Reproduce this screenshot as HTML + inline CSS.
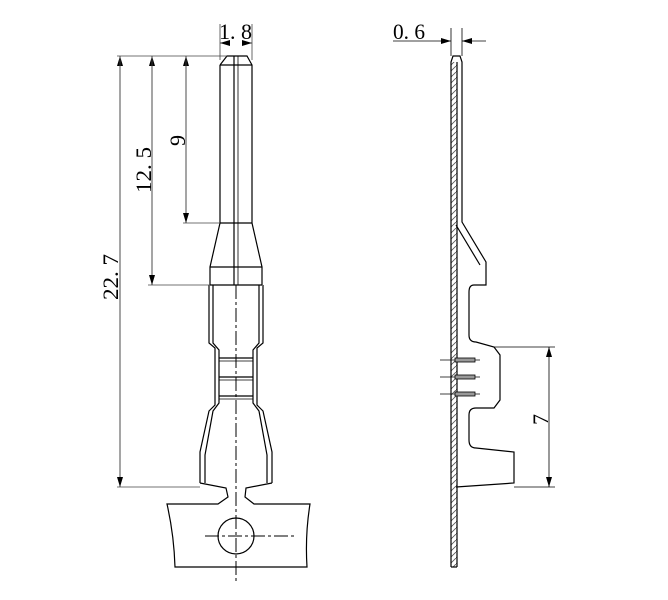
<!DOCTYPE html>
<html><head><style>body{margin:0;background:#fff}svg{display:block}</style></head>
<body>
<svg width="668" height="600" viewBox="0 0 668 600" xmlns="http://www.w3.org/2000/svg" font-family="'Liberation Serif',serif">
<defs>
<marker id="a" markerWidth="10" markerHeight="6" refX="10" refY="3" orient="auto" markerUnits="userSpaceOnUse"><path d="M0,0 L10,3 L0,6z" fill="#000"/></marker>
<pattern id="h" width="6" height="6" patternUnits="userSpaceOnUse"><path d="M0,6 L6,0" stroke="#555" stroke-width="0.8"/></pattern>
</defs>
<g fill="none" stroke="#000" stroke-width="1.2">
<path d="M220,65 L227,56 L247,56 L252,65 L252,223 L262,267 L262,285"/>
<path d="M220,65 L220,223 L210,267 L210,285"/>
<line x1="220" y1="65" x2="252" y2="65"/>
<line x1="220" y1="223" x2="252" y2="223"/>
<line x1="210" y1="267" x2="262" y2="267"/>
<line x1="210" y1="285" x2="262" y2="285"/>
<line x1="234" y1="56" x2="234" y2="285"/>
<line x1="238" y1="56" x2="238" y2="285" stroke-width="0.8"/>
<path d="M209,285 L209,343 L215,348 L215,405 L209,411 L200,452 L200,483"/>
<path d="M213,285 L213,343 L219,350 L219,403 L213,411 L205,455 L205,483"/>
<path d="M263,285 L263,343 L257,348 L257,405 L263,411 L272,452 L272,483"/>
<path d="M259,285 L259,343 L253,350 L253,403 L259,411 L267,455 L267,483"/>
<line x1="219" y1="358" x2="253" y2="358"/><line x1="219" y1="361" x2="253" y2="361" stroke-width="0.8"/>
<line x1="219" y1="377" x2="253" y2="377"/><line x1="219" y1="380" x2="253" y2="380" stroke-width="0.8"/>
<line x1="219" y1="396" x2="253" y2="396"/><line x1="219" y1="399" x2="253" y2="399" stroke-width="0.8"/>
<path d="M200,483 L226,488 L228,497 L218,504 L167,504 Q174,535 175,567 L307,567 Q305,535 310,504 L254,504 L245,497 L246,488 L272,483"/>
<circle cx="236" cy="536" r="18"/>
</g>
<g stroke="#000" stroke-width="1" stroke-dasharray="14,3,3,3" fill="none">
<line x1="236" y1="285" x2="236" y2="582"/>
<line x1="205" y1="536" x2="297" y2="536"/>
</g>
<g stroke="#444" stroke-width="0.8" fill="none">
<line x1="117" y1="56" x2="227" y2="56"/>
<line x1="183" y1="223" x2="220" y2="223"/>
<line x1="148" y1="285" x2="210" y2="285"/>
<line x1="117" y1="487" x2="200" y2="487"/>
<line x1="220" y1="24" x2="220" y2="60"/><line x1="252" y1="24" x2="252" y2="60"/>
<line x1="120" y1="487" x2="120" y2="56" marker-end="url(#a)"/>
<line x1="120" y1="56" x2="120" y2="487" marker-end="url(#a)"/>
<line x1="152" y1="285" x2="152" y2="56" marker-end="url(#a)"/>
<line x1="152" y1="56" x2="152" y2="285" marker-end="url(#a)"/>
<line x1="186" y1="223" x2="186" y2="56" marker-end="url(#a)"/>
<line x1="186" y1="56" x2="186" y2="223" marker-end="url(#a)"/>
<line x1="226" y1="43" x2="220" y2="43" marker-end="url(#a)"/>
<line x1="246" y1="43" x2="252" y2="43" marker-end="url(#a)"/>
</g>
<g font-size="22" fill="#000">
<text x="219" y="39" textLength="33" lengthAdjust="spacingAndGlyphs">1. 8</text>
<text transform="translate(118,300) rotate(-90)" textLength="46" lengthAdjust="spacingAndGlyphs">22. 7</text>
<text transform="translate(151,193) rotate(-90)" textLength="46" lengthAdjust="spacingAndGlyphs">12. 5</text>
<text transform="translate(185,146) rotate(-90)" textLength="11" lengthAdjust="spacingAndGlyphs">9</text>
<text x="393" y="39" textLength="32" lengthAdjust="spacingAndGlyphs">0. 6</text>
<text transform="translate(548,425) rotate(-90)" textLength="11" lengthAdjust="spacingAndGlyphs">7</text>
</g>
<rect x="451" y="62" width="6" height="505" fill="url(#h)"/>
<g fill="none" stroke="#000" stroke-width="1.2">
<path d="M451,567 L451,62 L453,56 L460,56 L462,62 L462,222 L486,262 L486,285 L474,285 Q469,285 469,292 L469,335 Q469,342 476,342 L494,347 L500,355 L500,400 L494,408 L476,408 Q469,408 469,415 L469,440 Q469,448 476,448 L514,452 L514,483 L456,487"/>
<line x1="457" y1="62" x2="457" y2="567"/>
<line x1="456" y1="225" x2="480" y2="265"/>
<line x1="451" y1="567" x2="457" y2="567"/>
</g>
<g stroke="#000" stroke-width="0.8" fill="none">
<line x1="451" y1="28" x2="451" y2="56"/><line x1="462" y1="28" x2="462" y2="56"/>
<line x1="393" y1="41" x2="451" y2="41" marker-end="url(#a)"/>
<line x1="486" y1="41" x2="462" y2="41" marker-end="url(#a)"/>
<line x1="494" y1="347" x2="555" y2="347"/>
<line x1="514" y1="487" x2="555" y2="487"/>
<line x1="549" y1="420" x2="549" y2="347" marker-end="url(#a)"/>
<line x1="549" y1="420" x2="549" y2="487" marker-end="url(#a)"/>
<line x1="440" y1="360" x2="480" y2="360"/>
<line x1="440" y1="377" x2="480" y2="377"/>
<line x1="440" y1="394" x2="480" y2="394"/>
</g>
<g fill="#999" stroke="#000" stroke-width="0.8">
<rect x="455" y="358" width="20" height="4"/>
<rect x="455" y="375" width="20" height="4"/>
<rect x="455" y="392" width="20" height="4"/>
</g>
</svg>
</body></html>
